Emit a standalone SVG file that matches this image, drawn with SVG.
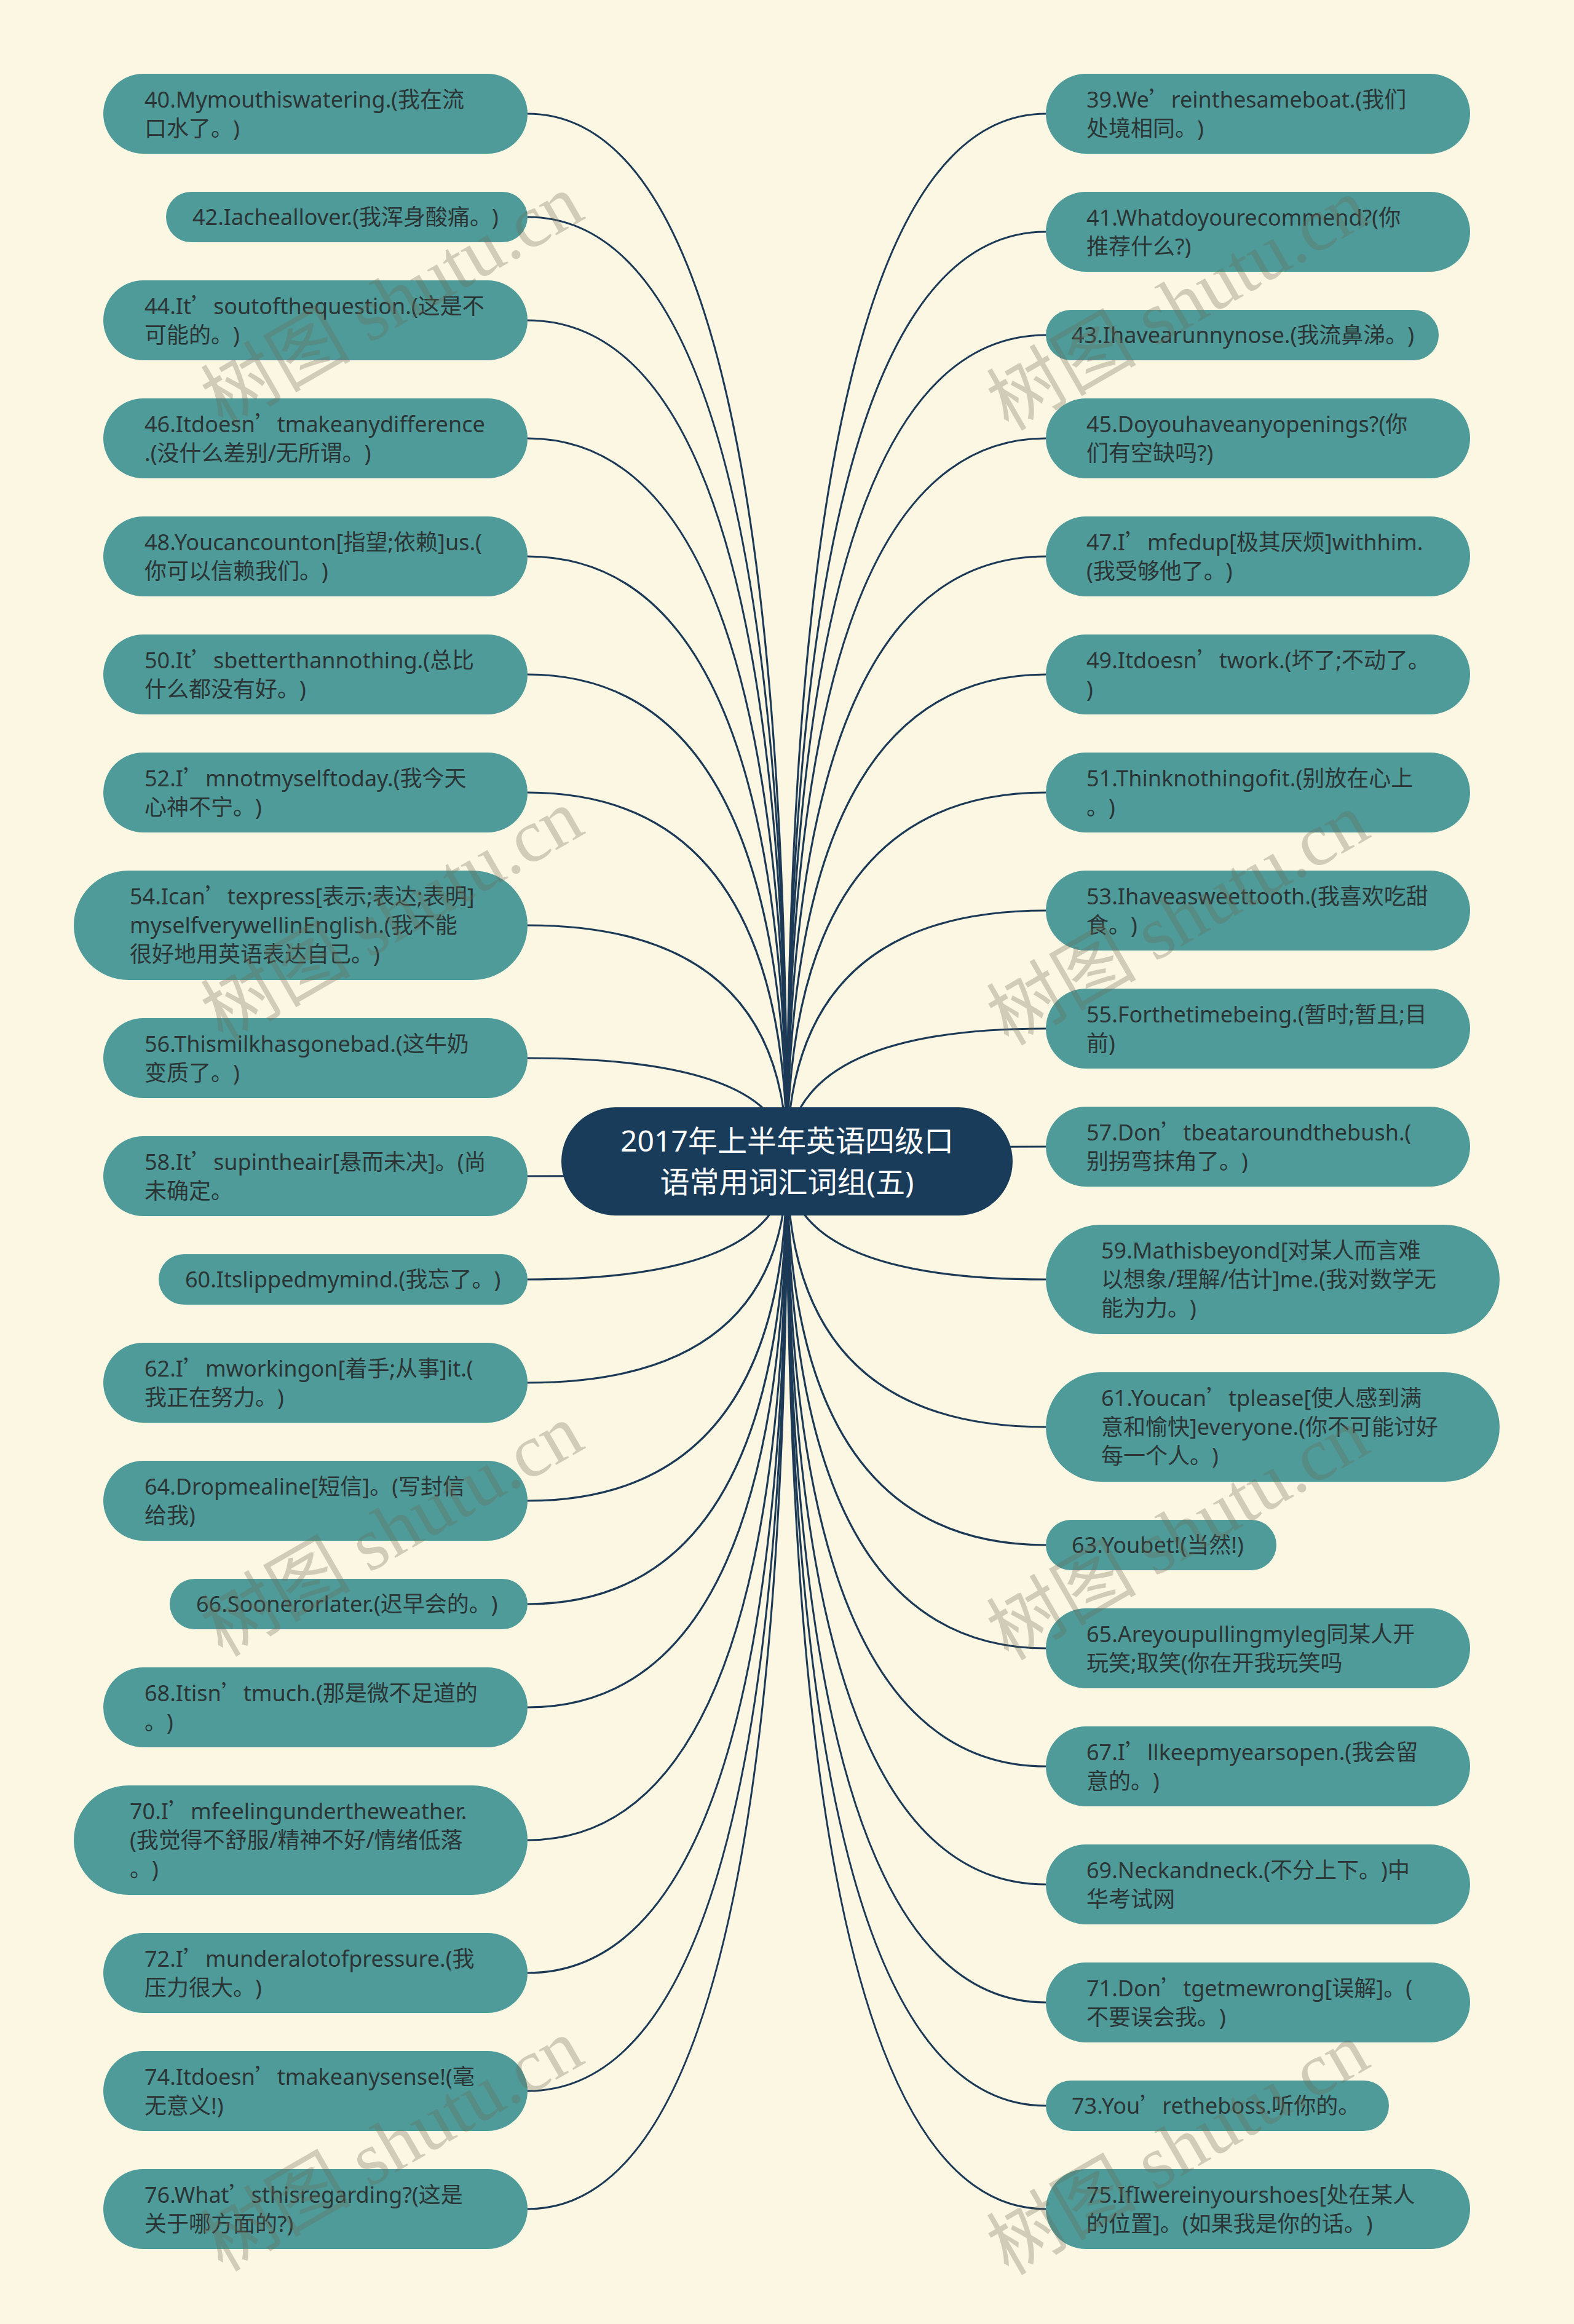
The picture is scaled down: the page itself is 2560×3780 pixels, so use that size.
<svg xmlns="http://www.w3.org/2000/svg" width="2560" height="3780" viewBox="0 0 2560 3780">
<style>
text{text-spacing-trim:space-all;font-feature-settings:"chws" 0,"halt" 0}
.n{fill:#4e9b9a}
.t{font-family:"Noto Sans","Noto Sans CJK SC",sans-serif;font-size:36px;fill:#2b3535}
.q{font-family:"Noto Sans CJK SC",sans-serif}
.c{fill:none;stroke:#1c3956;stroke-width:3.2}
.m{fill:#1a3c5b}
.mt{font-family:"Noto Sans","Noto Sans CJK SC",sans-serif;font-size:48px;fill:#ffffff;text-anchor:middle}
.w{font-family:"Liberation Serif","Noto Sans CJK SC",serif;font-size:122px;fill:#6e6a55;opacity:0.3}
</style>
<rect width="2560" height="3780" fill="#fbf7e3"/>
<g id="connectors">
<path class="c" d="M1280 1889 Q1280 185 858 185"/>
<path class="c" d="M1280 1889 Q1280 353 858 353"/>
<path class="c" d="M1280 1889 Q1280 521 858 521"/>
<path class="c" d="M1280 1889 Q1280 713 858 713"/>
<path class="c" d="M1280 1889 Q1280 905 858 905"/>
<path class="c" d="M1280 1889 Q1280 1097 858 1097"/>
<path class="c" d="M1280 1889 Q1280 1289 858 1289"/>
<path class="c" d="M1280 1889 Q1280 1505 858 1505"/>
<path class="c" d="M1280 1889 Q1280 1721 858 1721"/>
<path class="c" d="M1280 1889 Q1280 1913 858 1913"/>
<path class="c" d="M1280 1889 Q1280 2081 858 2081"/>
<path class="c" d="M1280 1889 Q1280 2249 858 2249"/>
<path class="c" d="M1280 1889 Q1280 2441 858 2441"/>
<path class="c" d="M1280 1889 Q1280 2609 858 2609"/>
<path class="c" d="M1280 1889 Q1280 2777 858 2777"/>
<path class="c" d="M1280 1889 Q1280 2993 858 2993"/>
<path class="c" d="M1280 1889 Q1280 3209 858 3209"/>
<path class="c" d="M1280 1889 Q1280 3401 858 3401"/>
<path class="c" d="M1280 1889 Q1280 3593 858 3593"/>
<path class="c" d="M1280 1889 Q1280 185 1701 185"/>
<path class="c" d="M1280 1889 Q1280 377 1701 377"/>
<path class="c" d="M1280 1889 Q1280 545 1701 545"/>
<path class="c" d="M1280 1889 Q1280 713 1701 713"/>
<path class="c" d="M1280 1889 Q1280 905 1701 905"/>
<path class="c" d="M1280 1889 Q1280 1097 1701 1097"/>
<path class="c" d="M1280 1889 Q1280 1289 1701 1289"/>
<path class="c" d="M1280 1889 Q1280 1481 1701 1481"/>
<path class="c" d="M1280 1889 Q1280 1673 1701 1673"/>
<path class="c" d="M1280 1889 Q1280 1865 1701 1865"/>
<path class="c" d="M1280 1889 Q1280 2081 1701 2081"/>
<path class="c" d="M1280 1889 Q1280 2321 1701 2321"/>
<path class="c" d="M1280 1889 Q1280 2513 1701 2513"/>
<path class="c" d="M1280 1889 Q1280 2681 1701 2681"/>
<path class="c" d="M1280 1889 Q1280 2873 1701 2873"/>
<path class="c" d="M1280 1889 Q1280 3065 1701 3065"/>
<path class="c" d="M1280 1889 Q1280 3257 1701 3257"/>
<path class="c" d="M1280 1889 Q1280 3425 1701 3425"/>
<path class="c" d="M1280 1889 Q1280 3593 1701 3593"/>
</g>
<g id="center">
<rect class="m" x="913" y="1801" width="734" height="176" rx="88"/>
<text class="mt" x="1280" y="1873">2017年上半年英语四级口</text>
<text class="mt" x="1280" y="1940">语常用词汇词组(五)</text>
</g>
<g id="n40"><rect class="n" x="168" y="120" width="690" height="130" rx="65"/><text class="t" x="235" y="174.5">40.Mymouthiswatering.(我在流</text><text class="t" x="235" y="221.5">口水了。)</text></g>
<g id="n42"><rect class="n" x="270" y="312" width="588" height="82" rx="41"/><text class="t" x="313" y="366">42.Iacheallover.(我浑身酸痛。)</text></g>
<g id="n44"><rect class="n" x="168" y="456" width="690" height="130" rx="65"/><text class="t" x="235" y="510.5">44.It<tspan class="q">’</tspan>soutofthequestion.(这是不</text><text class="t" x="235" y="557.5">可能的。)</text></g>
<g id="n46"><rect class="n" x="168" y="648" width="690" height="130" rx="65"/><text class="t" x="235" y="702.5">46.Itdoesn<tspan class="q">’</tspan>tmakeanydifference</text><text class="t" x="235" y="749.5">.(没什么差别/无所谓。)</text></g>
<g id="n48"><rect class="n" x="168" y="840" width="690" height="130" rx="65"/><text class="t" x="235" y="894.5">48.Youcancounton[指望;依赖]us.(</text><text class="t" x="235" y="941.5">你可以信赖我们。)</text></g>
<g id="n50"><rect class="n" x="168" y="1032" width="690" height="130" rx="65"/><text class="t" x="235" y="1086.5">50.It<tspan class="q">’</tspan>sbetterthannothing.(总比</text><text class="t" x="235" y="1133.5">什么都没有好。)</text></g>
<g id="n52"><rect class="n" x="168" y="1224" width="690" height="130" rx="65"/><text class="t" x="235" y="1278.5">52.I<tspan class="q">’</tspan>mnotmyselftoday.(我今天</text><text class="t" x="235" y="1325.5">心神不宁。)</text></g>
<g id="n54"><rect class="n" x="120" y="1416" width="738" height="178" rx="89"/><text class="t" x="211" y="1471">54.Ican<tspan class="q">’</tspan>texpress[表示;表达;表明]</text><text class="t" x="211" y="1518">myselfverywellinEnglish.(我不能</text><text class="t" x="211" y="1565">很好地用英语表达自己。)</text></g>
<g id="n56"><rect class="n" x="168" y="1656" width="690" height="130" rx="65"/><text class="t" x="235" y="1710.5">56.Thismilkhasgonebad.(这牛奶</text><text class="t" x="235" y="1757.5">变质了。)</text></g>
<g id="n58"><rect class="n" x="168" y="1848" width="690" height="130" rx="65"/><text class="t" x="235" y="1902.5">58.It<tspan class="q">’</tspan>supintheair[悬而未决]。(尚</text><text class="t" x="235" y="1949.5">未确定。</text></g>
<g id="n60"><rect class="n" x="258" y="2040" width="600" height="82" rx="41"/><text class="t" x="301" y="2094">60.Itslippedmymind.(我忘了。)</text></g>
<g id="n62"><rect class="n" x="168" y="2184" width="690" height="130" rx="65"/><text class="t" x="235" y="2238.5">62.I<tspan class="q">’</tspan>mworkingon[着手;从事]it.(</text><text class="t" x="235" y="2285.5">我正在努力。)</text></g>
<g id="n64"><rect class="n" x="168" y="2376" width="690" height="130" rx="65"/><text class="t" x="235" y="2430.5">64.Dropmealine[短信]。(写封信</text><text class="t" x="235" y="2477.5">给我)</text></g>
<g id="n66"><rect class="n" x="276" y="2568" width="582" height="82" rx="41"/><text class="t" x="319" y="2622">66.Soonerorlater.(迟早会的。)</text></g>
<g id="n68"><rect class="n" x="168" y="2712" width="690" height="130" rx="65"/><text class="t" x="235" y="2766.5">68.Itisn<tspan class="q">’</tspan>tmuch.(那是微不足道的</text><text class="t" x="235" y="2813.5">。)</text></g>
<g id="n70"><rect class="n" x="120" y="2904" width="738" height="178" rx="89"/><text class="t" x="211" y="2959">70.I<tspan class="q">’</tspan>mfeelingundertheweather.</text><text class="t" x="211" y="3006">(我觉得不舒服/精神不好/情绪低落</text><text class="t" x="211" y="3053">。)</text></g>
<g id="n72"><rect class="n" x="168" y="3144" width="690" height="130" rx="65"/><text class="t" x="235" y="3198.5">72.I<tspan class="q">’</tspan>munderalotofpressure.(我</text><text class="t" x="235" y="3245.5">压力很大。)</text></g>
<g id="n74"><rect class="n" x="168" y="3336" width="690" height="130" rx="65"/><text class="t" x="235" y="3390.5">74.Itdoesn<tspan class="q">’</tspan>tmakeanysense!(毫</text><text class="t" x="235" y="3437.5">无意义!)</text></g>
<g id="n76"><rect class="n" x="168" y="3528" width="690" height="130" rx="65"/><text class="t" x="235" y="3582.5">76.What<tspan class="q">’</tspan>sthisregarding?(这是</text><text class="t" x="235" y="3629.5">关于哪方面的?)</text></g>
<g id="n39"><rect class="n" x="1701" y="120" width="690" height="130" rx="65"/><text class="t" x="1767" y="174.5">39.We<tspan class="q">’</tspan>reinthesameboat.(我们</text><text class="t" x="1767" y="221.5">处境相同。)</text></g>
<g id="n41"><rect class="n" x="1701" y="312" width="690" height="130" rx="65"/><text class="t" x="1767" y="366.5">41.Whatdoyourecommend?(你</text><text class="t" x="1767" y="413.5">推荐什么?)</text></g>
<g id="n43"><rect class="n" x="1701" y="504" width="639" height="82" rx="41"/><text class="t" x="1743" y="558">43.Ihavearunnynose.(我流鼻涕。)</text></g>
<g id="n45"><rect class="n" x="1701" y="648" width="690" height="130" rx="65"/><text class="t" x="1767" y="702.5">45.Doyouhaveanyopenings?(你</text><text class="t" x="1767" y="749.5">们有空缺吗?)</text></g>
<g id="n47"><rect class="n" x="1701" y="840" width="690" height="130" rx="65"/><text class="t" x="1767" y="894.5">47.I<tspan class="q">’</tspan>mfedup[极其厌烦]withhim.</text><text class="t" x="1767" y="941.5">(我受够他了。)</text></g>
<g id="n49"><rect class="n" x="1701" y="1032" width="690" height="130" rx="65"/><text class="t" x="1767" y="1086.5">49.Itdoesn<tspan class="q">’</tspan>twork.(坏了;不动了。</text><text class="t" x="1767" y="1133.5">)</text></g>
<g id="n51"><rect class="n" x="1701" y="1224" width="690" height="130" rx="65"/><text class="t" x="1767" y="1278.5">51.Thinknothingofit.(别放在心上</text><text class="t" x="1767" y="1325.5">。)</text></g>
<g id="n53"><rect class="n" x="1701" y="1416" width="690" height="130" rx="65"/><text class="t" x="1767" y="1470.5">53.Ihaveasweettooth.(我喜欢吃甜</text><text class="t" x="1767" y="1517.5">食。)</text></g>
<g id="n55"><rect class="n" x="1701" y="1608" width="690" height="130" rx="65"/><text class="t" x="1767" y="1662.5">55.Forthetimebeing.(暂时;暂且;目</text><text class="t" x="1767" y="1709.5">前)</text></g>
<g id="n57"><rect class="n" x="1701" y="1800" width="690" height="130" rx="65"/><text class="t" x="1767" y="1854.5">57.Don<tspan class="q">’</tspan>tbeataroundthebush.(</text><text class="t" x="1767" y="1901.5">别拐弯抹角了。)</text></g>
<g id="n59"><rect class="n" x="1701" y="1992" width="738" height="178" rx="89"/><text class="t" x="1791" y="2047">59.Mathisbeyond[对某人而言难</text><text class="t" x="1791" y="2094">以想象/理解/估计]me.(我对数学无</text><text class="t" x="1791" y="2141">能为力。)</text></g>
<g id="n61"><rect class="n" x="1701" y="2232" width="738" height="178" rx="89"/><text class="t" x="1791" y="2287">61.Youcan<tspan class="q">’</tspan>tplease[使人感到满</text><text class="t" x="1791" y="2334">意和愉快]everyone.(你不可能讨好</text><text class="t" x="1791" y="2381">每一个人。)</text></g>
<g id="n63"><rect class="n" x="1701" y="2472" width="375" height="82" rx="41"/><text class="t" x="1743" y="2526">63.Youbet!(当然!)</text></g>
<g id="n65"><rect class="n" x="1701" y="2616" width="690" height="130" rx="65"/><text class="t" x="1767" y="2670.5">65.Areyoupullingmyleg同某人开</text><text class="t" x="1767" y="2717.5">玩笑;取笑(你在开我玩笑吗</text></g>
<g id="n67"><rect class="n" x="1701" y="2808" width="690" height="130" rx="65"/><text class="t" x="1767" y="2862.5">67.I<tspan class="q">’</tspan>llkeepmyearsopen.(我会留</text><text class="t" x="1767" y="2909.5">意的。)</text></g>
<g id="n69"><rect class="n" x="1701" y="3000" width="690" height="130" rx="65"/><text class="t" x="1767" y="3054.5">69.Neckandneck.(不分上下。)中</text><text class="t" x="1767" y="3101.5">华考试网</text></g>
<g id="n71"><rect class="n" x="1701" y="3192" width="690" height="130" rx="65"/><text class="t" x="1767" y="3246.5">71.Don<tspan class="q">’</tspan>tgetmewrong[误解]。(</text><text class="t" x="1767" y="3293.5">不要误会我。)</text></g>
<g id="n73"><rect class="n" x="1701" y="3384" width="558" height="82" rx="41"/><text class="t" x="1743" y="3438">73.You<tspan class="q">’</tspan>retheboss.听你的。</text></g>
<g id="n75"><rect class="n" x="1701" y="3528" width="690" height="130" rx="65"/><text class="t" x="1767" y="3582.5">75.IfIwereinyourshoes[处在某人</text><text class="t" x="1767" y="3629.5">的位置]。(如果我是你的话。)</text></g>
<g id="watermarks">
<text class="w" transform="translate(362 696) rotate(-30)">树图 shutu.cn</text>
<text class="w" transform="translate(362 1696) rotate(-30)">树图 shutu.cn</text>
<text class="w" transform="translate(362 2696) rotate(-30)">树图 shutu.cn</text>
<text class="w" transform="translate(362 3696) rotate(-30)">树图 shutu.cn</text>
<text class="w" transform="translate(1640 702) rotate(-30)">树图 shutu.cn</text>
<text class="w" transform="translate(1640 1702) rotate(-30)">树图 shutu.cn</text>
<text class="w" transform="translate(1640 2702) rotate(-30)">树图 shutu.cn</text>
<text class="w" transform="translate(1640 3702) rotate(-30)">树图 shutu.cn</text>
</g>
</svg>
